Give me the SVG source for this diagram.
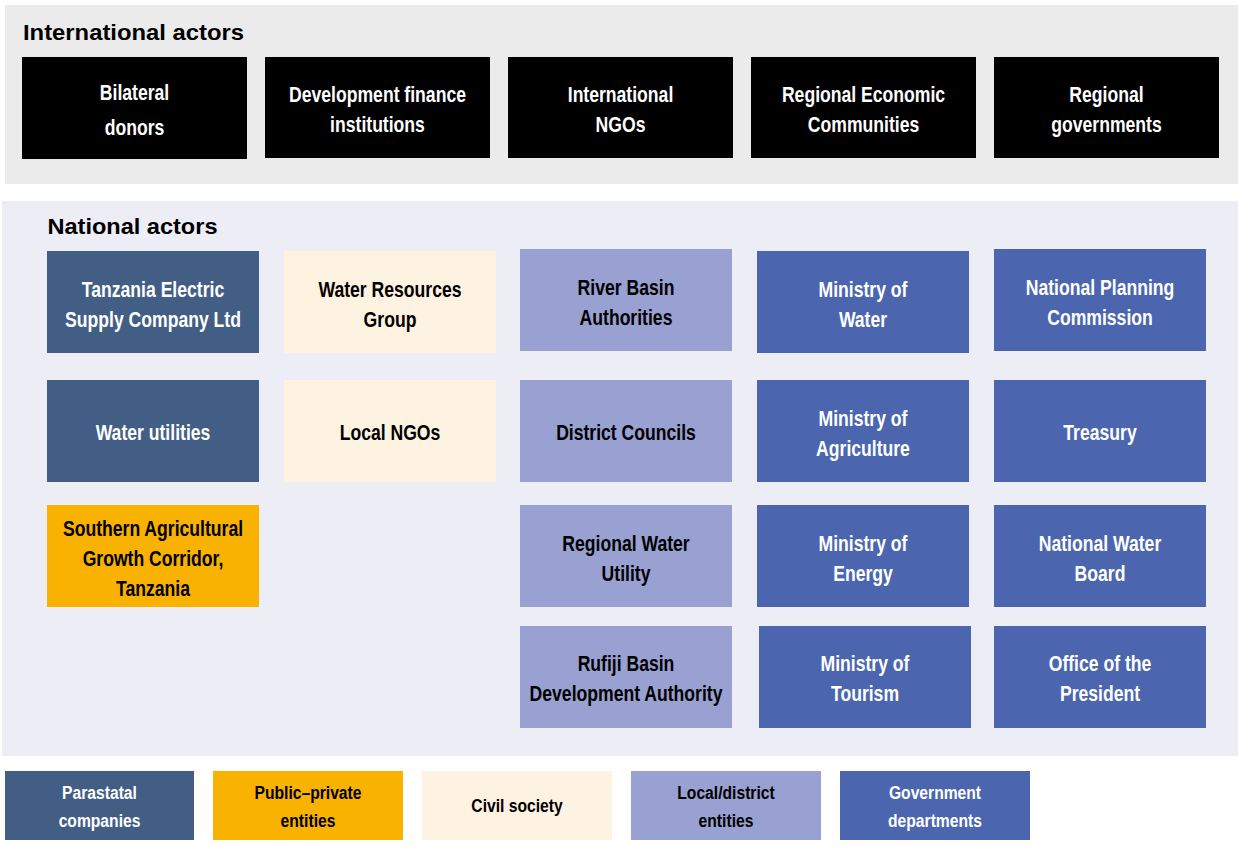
<svg xmlns="http://www.w3.org/2000/svg" width="1238" height="851" viewBox="0 0 1238 851">
<style>
.t{font-family:"Liberation Sans",Arial,sans-serif;font-weight:bold;font-size:22px;text-anchor:middle;dominant-baseline:central}
.lg{font-size:18px}
.w{fill:#fff}.k{fill:#000}
.h{font-family:"Liberation Sans",Arial,sans-serif;font-weight:bold;font-size:21.5px;fill:#000}
.intl{fill:#000}.para{fill:#425e85}.ppp{fill:#f9b200}.civ{fill:#fef3e0}.loc{fill:#98a1d1}.gov{fill:#4b66ae}
</style>
<rect width="1238" height="851" fill="#fff"/>
<g id="panel-international"><rect x="5" y="5" width="1233" height="179" fill="#ebebeb"/><text class="h" x="23" y="40" textLength="221" lengthAdjust="spacingAndGlyphs">International actors</text></g>
<g id="panel-national"><rect x="2" y="201" width="1236" height="555" fill="#ededf6"/><text class="h" x="47.5" y="234" textLength="170" lengthAdjust="spacingAndGlyphs">National actors</text></g>

<g id="bilateral"><rect class="intl" x="22" y="57" width="225" height="102"/><text class="t w" transform="matrix(.8 0 0 1 134.5 0)" y="92">Bilateral</text><text class="t w" transform="matrix(.8 0 0 1 134.5 0)" y="127">donors</text></g>
<g id="dfi"><rect class="intl" x="265" y="57" width="225" height="101"/><text class="t w" transform="matrix(.8 0 0 1 377.5 0)" y="94">Development finance</text><text class="t w" transform="matrix(.8 0 0 1 377.5 0)" y="124">institutions</text></g>
<g id="ingo"><rect class="intl" x="508" y="57" width="225" height="101"/><text class="t w" transform="matrix(.8 0 0 1 620.5 0)" y="94">International</text><text class="t w" transform="matrix(.8 0 0 1 620.5 0)" y="124">NGOs</text></g>
<g id="rec"><rect class="intl" x="751" y="57" width="225" height="101"/><text class="t w" transform="matrix(.8 0 0 1 863.5 0)" y="94">Regional Economic</text><text class="t w" transform="matrix(.8 0 0 1 863.5 0)" y="124">Communities</text></g>
<g id="reggov"><rect class="intl" x="994" y="57" width="225" height="101"/><text class="t w" transform="matrix(.8 0 0 1 1106.5 0)" y="94">Regional</text><text class="t w" transform="matrix(.8 0 0 1 1106.5 0)" y="124">governments</text></g>

<g id="tanesco"><rect class="para" x="47" y="251" width="212" height="102"/><text class="t w" transform="matrix(.8 0 0 1 153 0)" y="289">Tanzania Electric</text><text class="t w" transform="matrix(.8 0 0 1 153 0)" y="319">Supply Company Ltd</text></g>
<g id="utilities"><rect class="para" x="47" y="380" width="212" height="102"/><text class="t w" transform="matrix(.8 0 0 1 153 0)" y="432">Water utilities</text></g>
<g id="sagcot"><rect class="ppp" x="47" y="505" width="212" height="102"/><text class="t k" transform="matrix(.8 0 0 1 153 0)" y="528">Southern Agricultural</text><text class="t k" transform="matrix(.8 0 0 1 153 0)" y="558">Growth Corridor,</text><text class="t k" transform="matrix(.8 0 0 1 153 0)" y="588">Tanzania</text></g>

<g id="wrg"><rect class="civ" x="284" y="251" width="212" height="102"/><text class="t k" transform="matrix(.8 0 0 1 390 0)" y="289">Water Resources</text><text class="t k" transform="matrix(.8 0 0 1 390 0)" y="319">Group</text></g>
<g id="lngo"><rect class="civ" x="284" y="380" width="212" height="102"/><text class="t k" transform="matrix(.8 0 0 1 390 0)" y="432">Local NGOs</text></g>

<g id="rba"><rect class="loc" x="520" y="249" width="212" height="102"/><text class="t k" transform="matrix(.8 0 0 1 626 0)" y="287">River Basin</text><text class="t k" transform="matrix(.8 0 0 1 626 0)" y="317">Authorities</text></g>
<g id="district"><rect class="loc" x="520" y="380" width="212" height="102"/><text class="t k" transform="matrix(.8 0 0 1 626 0)" y="432">District Councils</text></g>
<g id="rwu"><rect class="loc" x="520" y="505" width="212" height="102"/><text class="t k" transform="matrix(.8 0 0 1 626 0)" y="543">Regional Water</text><text class="t k" transform="matrix(.8 0 0 1 626 0)" y="573">Utility</text></g>
<g id="rbda"><rect class="loc" x="520" y="626" width="212" height="102"/><text class="t k" transform="matrix(.8 0 0 1 626 0)" y="663">Rufiji Basin</text><text class="t k" transform="matrix(.8 0 0 1 626 0)" y="693">Development Authority</text></g>

<g id="mow"><rect class="gov" x="757" y="251" width="212" height="102"/><text class="t w" transform="matrix(.8 0 0 1 863 0)" y="289">Ministry of</text><text class="t w" transform="matrix(.8 0 0 1 863 0)" y="319">Water</text></g>
<g id="moa"><rect class="gov" x="757" y="380" width="212" height="102"/><text class="t w" transform="matrix(.8 0 0 1 863 0)" y="418">Ministry of</text><text class="t w" transform="matrix(.8 0 0 1 863 0)" y="448">Agriculture</text></g>
<g id="moe"><rect class="gov" x="757" y="505" width="212" height="102"/><text class="t w" transform="matrix(.8 0 0 1 863 0)" y="543">Ministry of</text><text class="t w" transform="matrix(.8 0 0 1 863 0)" y="573">Energy</text></g>
<g id="mot"><rect class="gov" x="759" y="626" width="212" height="102"/><text class="t w" transform="matrix(.8 0 0 1 865 0)" y="663">Ministry of</text><text class="t w" transform="matrix(.8 0 0 1 865 0)" y="693">Tourism</text></g>

<g id="npc"><rect class="gov" x="994" y="249" width="212" height="102"/><text class="t w" transform="matrix(.8 0 0 1 1100 0)" y="287">National Planning</text><text class="t w" transform="matrix(.8 0 0 1 1100 0)" y="317">Commission</text></g>
<g id="treasury"><rect class="gov" x="994" y="380" width="212" height="102"/><text class="t w" transform="matrix(.8 0 0 1 1100 0)" y="432">Treasury</text></g>
<g id="nwb"><rect class="gov" x="994" y="505" width="212" height="102"/><text class="t w" transform="matrix(.8 0 0 1 1100 0)" y="543">National Water</text><text class="t w" transform="matrix(.8 0 0 1 1100 0)" y="573">Board</text></g>
<g id="president"><rect class="gov" x="994" y="626" width="212" height="102"/><text class="t w" transform="matrix(.8 0 0 1 1100 0)" y="663">Office of the</text><text class="t w" transform="matrix(.8 0 0 1 1100 0)" y="693">President</text></g>

<g id="legend">
<g id="lg-para"><rect class="para" x="5" y="771" width="189" height="69"/><text class="t lg w" transform="matrix(.87 0 0 1 99.5 0)" y="793">Parastatal</text><text class="t lg w" transform="matrix(.87 0 0 1 99.5 0)" y="821">companies</text></g>
<g id="lg-ppp"><rect class="ppp" x="213" y="771" width="190" height="69"/><text class="t lg k" transform="matrix(.87 0 0 1 308 0)" y="793">Public–private</text><text class="t lg k" transform="matrix(.87 0 0 1 308 0)" y="821">entities</text></g>
<g id="lg-civ"><rect class="civ" x="422" y="771" width="190" height="69"/><text class="t lg k" transform="matrix(.87 0 0 1 517 0)" y="806">Civil society</text></g>
<g id="lg-loc"><rect class="loc" x="631" y="771" width="190" height="69"/><text class="t lg k" transform="matrix(.87 0 0 1 726 0)" y="793">Local/district</text><text class="t lg k" transform="matrix(.87 0 0 1 726 0)" y="821">entities</text></g>
<g id="lg-gov"><rect class="gov" x="840" y="771" width="190" height="69"/><text class="t lg w" transform="matrix(.87 0 0 1 935 0)" y="793">Government</text><text class="t lg w" transform="matrix(.87 0 0 1 935 0)" y="821">departments</text></g>
</g>
<g id="connectors"/>
</svg>
